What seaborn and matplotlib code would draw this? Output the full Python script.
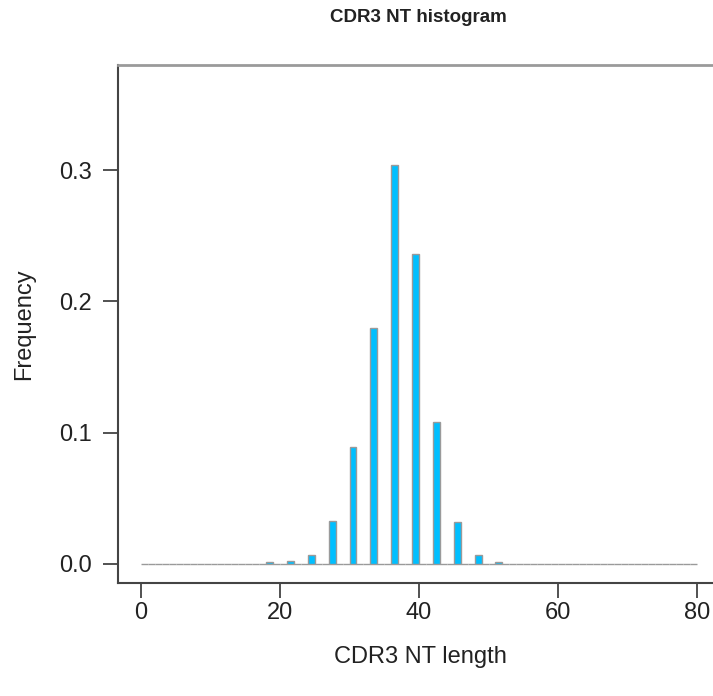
import numpy as np
import pandas as pd
import matplotlib
matplotlib.use("Agg")
import matplotlib.pyplot as plt
import seaborn as sns

# CDR3 nucleotide length distribution (frequency per length)
lengths = [18, 21, 24, 27, 30, 33, 36, 39, 42, 45, 48, 51]
freqs = [0.0012, 0.0025, 0.007, 0.033, 0.089, 0.180, 0.304, 0.236, 0.108, 0.032, 0.0065, 0.0012]
x_ticks = [0, 20, 40, 60, 80]
y_ticks = [0.0, 0.1, 0.2, 0.3]

sns.set_theme(style="white")
plt.rcParams['font.family'] = ['Liberation Sans', 'DejaVu Sans']

df = pd.DataFrame({"length": lengths, "freq": freqs})

fig = plt.figure(figsize=(7.13, 6.96), dpi=100)
ax = fig.add_axes([118 / 713, 113 / 696, (713 - 118) / 713, (583 - 65) / 696])

# one bin per length, 0..80; empty bins show up as the grey baseline
sns.histplot(data=df, x="length", weights="freq", bins=80, binrange=(0, 80),
             stat="count", color="#00BFFF", alpha=1.0,
             edgecolor="#9a9a9a", linewidth=1.0, ax=ax)

ax.set_xlim(-3.31, 82.3)
ax.set_ylim(-0.01447, 0.380)
ax.set_xticks(x_ticks)
ax.set_yticks(y_ticks)
ax.set_yticklabels([f"{v:.1f}" for v in y_ticks])
ax.tick_params(axis="both", which="major", direction="out", length=10.5,
               width=1.2, color="#333333", labelsize=17, labelcolor="#222222")
ax.tick_params(axis="x", pad=3, bottom=True)
ax.tick_params(axis="y", pad=8, left=True)

for side in ["left", "bottom"]:
    ax.spines[side].set_color("#444444")
    ax.spines[side].set_linewidth(1.5)
ax.spines["top"].set_color("#9a9a9a")
ax.spines["top"].set_linewidth(2.0)
ax.spines["right"].set_visible(False)

ax.set_xlabel("CDR3 NT length", fontsize=17, color="#222222")
ax.set_ylabel("Frequency", fontsize=17, color="#222222")
ax.xaxis.set_label_coords((420 - 118) / 595, -(646 - 583) / 518)
ax.yaxis.set_label_coords(-(118 - 35) / 595, 0.5)

fig.text(418 / 713, 1 - 18 / 696, "CDR3 NT histogram", ha="center", va="center",
         fontsize=13.5, fontweight="bold", color="#222222")

fig.savefig("out.png", dpi=100)
